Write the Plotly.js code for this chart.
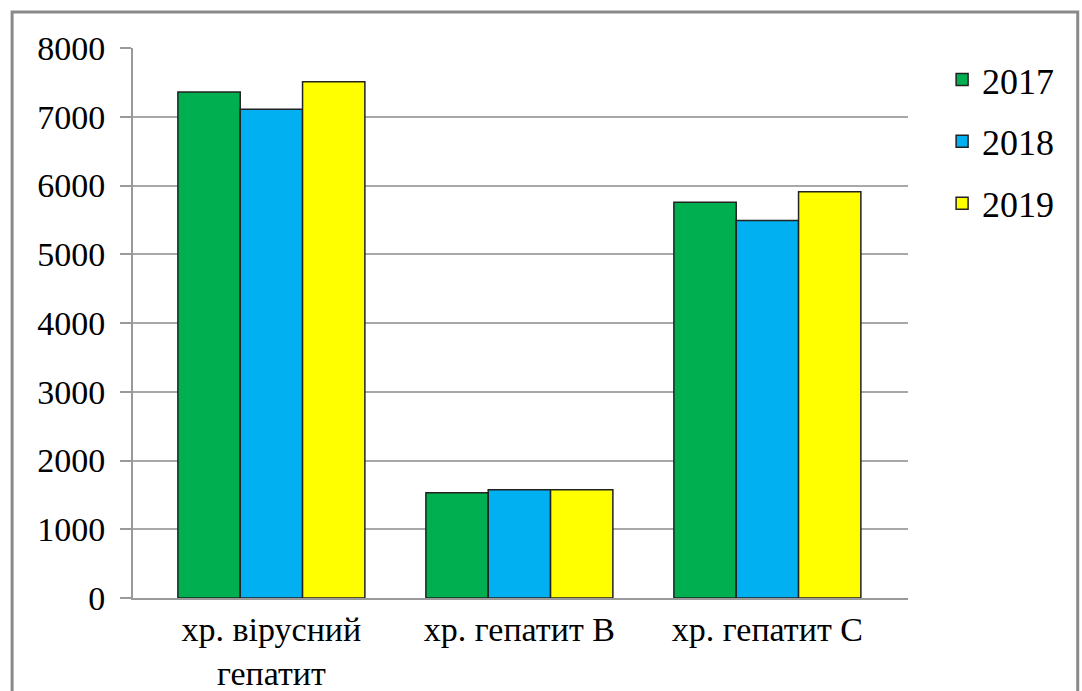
<!DOCTYPE html>
<html>
<head>
<meta charset="utf-8">
<script src="https://cdn.plot.ly/plotly-3.0.1.min.js"></script>
<style>html,body{margin:0;padding:0;background:#fff;}</style>
</head>
<body>
<div id="chart" style="width:1082px;height:691px;"></div>
<script>
const categories = ["хр. вірусний<br>гепатит", "хр. гепатит В", "хр. гепатит С"];
const years = ["2017", "2018", "2019"];
const values2017 = [7360, 1530, 5755];
const values2018 = [7110, 1575, 5490];
const values2019 = [7510, 1575, 5910];
const colors = ["#00B050", "#00B0F0", "#FFFF00"];
const yTicks = [0, 1000, 2000, 3000, 4000, 5000, 6000, 7000, 8000];

const series = [values2017, values2018, values2019];
const traces = series.map((vals, i) => ({
  type: "bar",
  name: years[i],
  legendgroup: "g" + i,
  x: categories,
  y: vals,
  marker: {color: colors[i], line: {color: "#222", width: 1.5}},
  hoverinfo: "y+name"
}));

const fam = "Liberation Serif";
const font = {family: fam, color: "#000"};

const layout = {
  width: 1082, height: 691,
  margin: {l: 133, r: 174, t: 48, b: 93},
  paper_bgcolor: "#fff", plot_bgcolor: "#fff",
  barmode: "group",
  bargap: 0.246,
  bargroupgap: 0,
  font: Object.assign({size: 34}, font),
  xaxis: {
    type: "category",
    range: [-0.558, 2.567],
    showline: true, linecolor: "#9a9a9a", linewidth: 2,
    ticks: "", tickfont: Object.assign({size: 34}, font),
    showgrid: false, zeroline: false
  },
  yaxis: {
    range: [0, 8000], tickvals: yTicks, ticktext: yTicks.map(String),
    showline: true, linecolor: "#9a9a9a", linewidth: 2,
    ticks: "outside", ticklen: 11, tickcolor: "#9a9a9a", tickwidth: 2,
    ticklabelstandoff: 8,
    gridcolor: "#a8a8a8", gridwidth: 2, zeroline: false,
    tickfont: Object.assign({size: 34}, font)
  },
  legend: {
    x: 1.044, y: 0.997, xanchor: "left", yanchor: "top",
    font: Object.assign({size: 36}, font),
    tracegroupgap: 12, itemwidth: 30,
    bgcolor: "rgba(0,0,0,0)"
  },
  shapes: [{
    type: "rect", xref: "paper", yref: "paper",
    x0: -0.156, x1: 1.219, y0: -0.18, y1: 1.0655,
    line: {color: "#8a8a8a", width: 3}, fillcolor: "rgba(0,0,0,0)", layer: "below"
  }],
  showlegend: true
};

Plotly.newPlot("chart", traces, layout, {displayModeBar: false, staticPlot: true});
</script>
</body>
</html>
